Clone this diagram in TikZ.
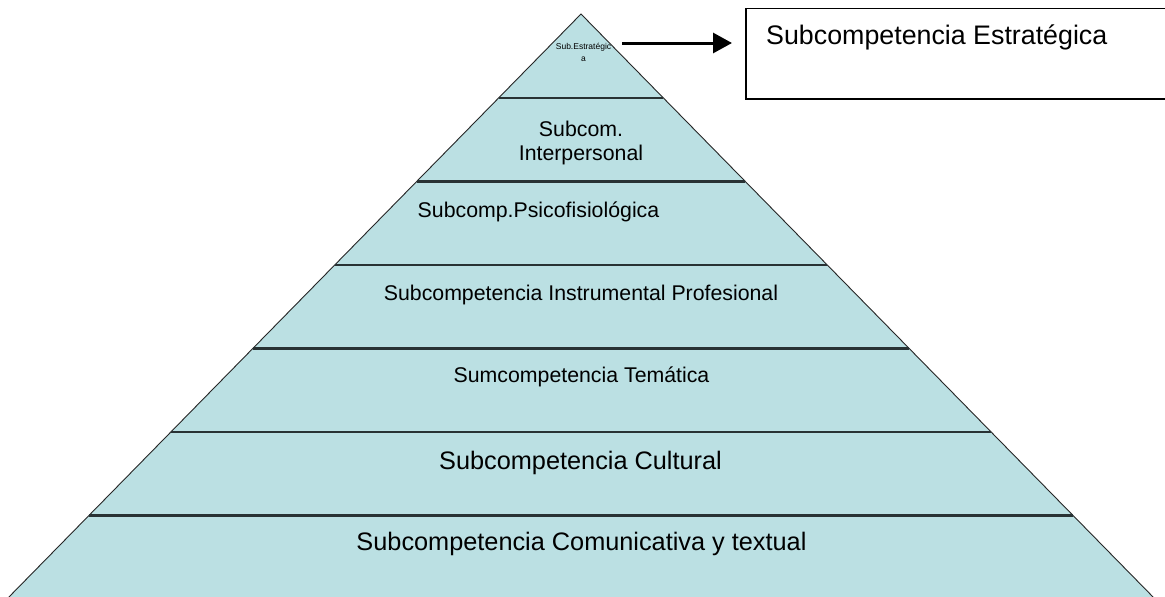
\documentclass[tikz,border=0pt]{standalone}
\usepackage{fontspec}
\setmainfont{Liberation Sans}
\usetikzlibrary{arrows.meta,calc}
\definecolor{layerfill}{RGB}{187,224,227}
\definecolor{sepcol}{RGB}{40,50,52}
\begin{document}
\begin{tikzpicture}[x=1pt,y=-1pt,
  sep/.style={line width=2.6pt, draw=sepcol},
  lbl/.style={inner sep=0pt, align=center, font=\fontsize{21.3}{24}\selectfont},
  big/.style={inner sep=0pt, align=center, font=\fontsize{25.3}{30}\selectfont},
  tiny/.style={inner sep=0pt, align=center, font=\fontsize{8.5}{12}\selectfont},
]
\clip (0,0) rectangle (1165,597);
\fill[white] (0,0) rectangle (1165,597);
\coordinate (apex) at (581,14);
\coordinate (bl) at (6,600);
\coordinate (br) at (1156,600);
\draw[fill=layerfill, line width=0.9pt, draw=black!85] (apex) -- (bl) -- (br) -- cycle;
\foreach \yy [count=\i] in {98,181.5,265,348.5,432,515.5}{
  \coordinate (L\i) at ($(apex)!{(\yy-14)/586}!(bl)$);
  \coordinate (R\i) at ($(apex)!{(\yy-14)/586}!(br)$);
  \draw[sep] (L\i) -- (R\i);
}
\node[tiny] (top) at (583.5,52) {Sub.Estratégic\\a};
\node[lbl] (interp) at (581,143) {Subcom.\\Interpersonal};
\node[lbl] (psico) at (538.5,212) {Subcomp.Psicofisiológica};
\node[lbl] (instr) at (581,295) {Subcompetencia Instrumental Profesional};
\node[lbl] (tema) at (581.5,377) {Sumcompetencia Temática};
\node[big] (cult) at (580.5,463) {Subcompetencia Cultural};
\node[big] (comu) at (581.5,544) {Subcompetencia Comunicativa y textual};
\node[draw, line width=1.5pt, minimum width=425pt, minimum height=90.5pt, anchor=north west, inner sep=0pt] (box) at (745,7.5) {};
\node[anchor=west, inner sep=0pt, font=\fontsize{26.8}{30}\selectfont] (boxtext) at (766,37) {Subcompetencia Estratégica};
\coordinate (arrS) at (622,43);
\draw[line width=3pt, -{Triangle[length=19pt,width=20pt]}, shorten >=13pt] (arrS) -- (box.west |- arrS);
\end{tikzpicture}
\end{document}
